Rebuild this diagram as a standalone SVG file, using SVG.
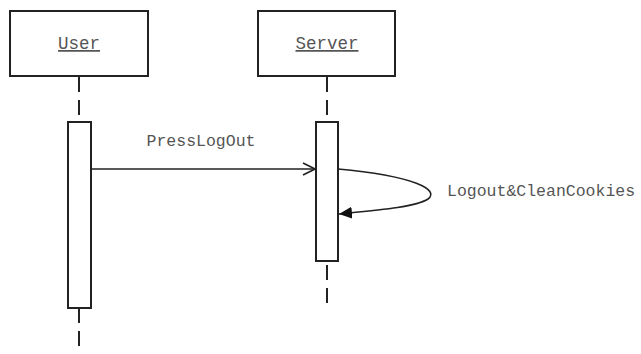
<svg xmlns="http://www.w3.org/2000/svg" width="641" height="354" viewBox="0 0 641 354">
<style>
.box{fill:#fff;stroke:#222;stroke-width:2}
.life{stroke:#222;stroke-width:2;stroke-dasharray:15 8;fill:none}
.act{fill:#fff;stroke:#222;stroke-width:2}
.t{font-family:"Liberation Mono","DejaVu Sans Mono",monospace;fill:#555;font-size:16.5px}
.h{font-size:17.5px}
.msg{stroke:#222;stroke-width:1.6;fill:none}
</style>
<defs>
<marker id="open" markerWidth="14" markerHeight="14" refX="13" refY="7" orient="auto" markerUnits="userSpaceOnUse">
<path d="M1,1 L13,7 L1,13" fill="none" stroke="#222" stroke-width="1.6"/>
</marker>
<marker id="filled" markerWidth="14" markerHeight="12" refX="13" refY="6" orient="auto" markerUnits="userSpaceOnUse">
<path d="M0,0 L13,6 L0,12 Z" fill="#111"/>
</marker>
</defs>
<rect width="641" height="354" fill="#fff"/>
<g id="lifelines">
<line class="life" x1="79" y1="77" x2="79" y2="122"/>
<line class="life" x1="79" y1="308" x2="79" y2="354"/>
<line class="life" x1="327" y1="77" x2="327" y2="122"/>
<line class="life" x1="327" y1="265" x2="327" y2="305"/>
</g>
<g id="user">
<rect class="box" x="10" y="11" width="138" height="65"/>
<text class="t h" x="79" y="49" text-anchor="middle" text-decoration="underline">User</text>
</g>
<g id="server">
<rect class="box" x="258" y="11" width="137" height="65"/>
<text class="t h" x="327" y="49" text-anchor="middle" text-decoration="underline">Server</text>
</g>
<g id="user-activation">
<rect class="act" x="68" y="122" width="23" height="186"/>
</g>
<g id="server-activation">
<rect class="act" x="316" y="122" width="22" height="139"/>
</g>
<g id="connectors">
<line class="msg" x1="91" y1="169" x2="315" y2="169" marker-end="url(#open)"/>
<path class="msg" d="M338,169 C415,176 440,190 428,199 C416,207 380,210 339,214" marker-end="url(#filled)"/>
</g>
<g id="labels">
<text class="t" x="201" y="146" text-anchor="middle">PressLogOut</text>
<text class="t" x="447" y="196">Logout&amp;CleanCookies</text>
</g>
</svg>
